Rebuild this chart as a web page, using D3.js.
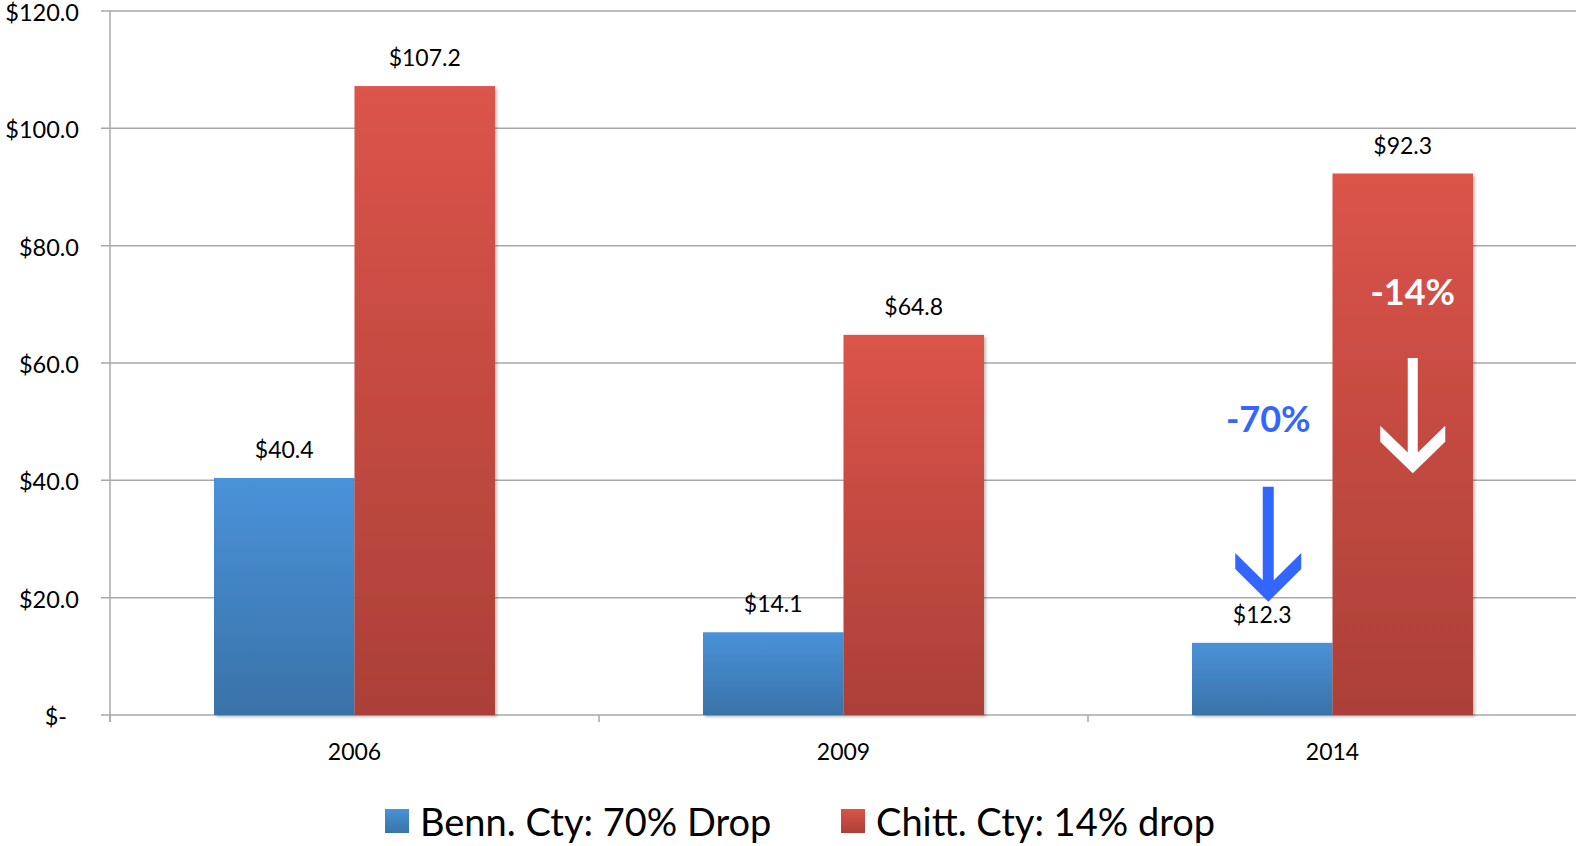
<!DOCTYPE html>
<html>
<head>
<meta charset="utf-8">
<script src="https://cdn.jsdelivr.net/npm/d3@7"></script>
<style>
  body { margin: 0; background: #fff; }
  svg { display: block; font-family: Lato, "Open Sans", sans-serif; }
</style>
</head>
<body>
<svg id="chart"></svg>
<script>
const years = ["2006", "2009", "2014"];
const seriesNames = ["Benn. Cty: 70% Drop", "Chitt. Cty: 14% drop"];
const benn = [40.4, 14.1, 12.3];
const chitt = [107.2, 64.8, 92.3];
const yTicks = [0, 20, 40, 60, 80, 100, 120];

const width = 1576, height = 846;
const svg = d3.select("#chart").attr("width", width).attr("height", height);

const x = d3.scaleBand().domain(years).range([110, 1577]);
const xs = d3.scaleBand().domain([0, 1])
  .range([(x.bandwidth() - 281) / 2, (x.bandwidth() + 281) / 2]);
const y = d3.scaleLinear().domain([0, 120]).range([715, 11]);

// gradients
const defs = svg.append("defs");
const grads = [["blueGrad", "#4a92d9", "#3972a8"], ["redGrad", "#db544a", "#ab4038"]];
grads.forEach(([id, c1, c2]) => {
  const g = defs.append("linearGradient").attr("id", id)
    .attr("x1", 0).attr("y1", 0).attr("x2", 0).attr("y2", 1);
  g.append("stop").attr("offset", "0%").attr("stop-color", c1);
  g.append("stop").attr("offset", "100%").attr("stop-color", c2);
});
const shadow = defs.append("filter").attr("id", "shadow")
  .attr("x", "-5%").attr("y", "-5%").attr("width", "115%").attr("height", "115%");
shadow.append("feDropShadow").attr("dx", 2).attr("dy", 2).attr("stdDeviation", 1.5)
  .attr("flood-color", "#000").attr("flood-opacity", 0.25);

// gridlines
svg.append("g").selectAll("line").data(yTicks).enter().append("line")
  .attr("x1", 101).attr("x2", width)
  .attr("y1", d => y(d)).attr("y2", d => y(d))
  .attr("stroke", "#a8a8a8").attr("stroke-width", 1.5);

// y axis line
svg.append("line").attr("x1", 110).attr("x2", 110).attr("y1", y(120)).attr("y2", y(0) + 7)
  .attr("stroke", "#a8a8a8").attr("stroke-width", 1.5);

// x ticks
svg.append("g").selectAll("line").data(years).enter().append("line")
  .attr("x1", d => x(d)).attr("x2", d => x(d))
  .attr("y1", y(0)).attr("y2", y(0) + 7)
  .attr("stroke", "#a8a8a8").attr("stroke-width", 1.5);

// y labels
svg.append("g").selectAll("text").data(yTicks).enter().append("text")
  .attr("x", d => d === 0 ? 67 : 79)
  .attr("y", d => y(d) + 10)
  .attr("text-anchor", "end")
  .attr("font-size", 23.5)
  .attr("fill", "#000")
  .text(d => d === 0 ? "$-" : "$" + d.toFixed(1));

// x labels
svg.append("g").selectAll("text").data(years).enter().append("text")
  .attr("x", d => x(d) + x.bandwidth() / 2)
  .attr("y", 760)
  .attr("text-anchor", "middle")
  .attr("font-size", 23)
  .text(d => d);

// bars
const series = [benn, chitt];
const fills = ["url(#blueGrad)", "url(#redGrad)"];
series.forEach((vals, si) => {
  const g = svg.append("g");
  g.selectAll("rect").data(vals).enter().append("rect")
    .attr("x", (d, i) => x(years[i]) + xs(si))
    .attr("width", xs.bandwidth())
    .attr("y", d => y(d))
    .attr("height", d => y(0) - y(d))
    .attr("fill", fills[si])
    .attr("filter", "url(#shadow)");
  g.selectAll("text").data(vals).enter().append("text")
    .attr("x", (d, i) => x(years[i]) + xs(si) + xs.bandwidth() / 2)
    .attr("y", d => y(d) - 20)
    .attr("text-anchor", "middle")
    .attr("font-size", 23)
    .text(d => "$" + d.toFixed(1));
});

// annotations on 2014
function arrow(cx, top, wingTop, tip, hw, sw, d) {
  const slope = (tip - wingTop - d) / hw;
  const inner = wingTop + (hw - sw) * slope;
  return [
    [cx - sw, top], [cx + sw, top], [cx + sw, inner], [cx + hw, wingTop],
    [cx + hw, wingTop + d], [cx, tip], [cx - hw, wingTop + d], [cx - hw, wingTop],
    [cx - sw, inner]
  ];
}
const bx = x("2014") + xs(0) + xs.bandwidth() / 2 + 6;
const rx = x("2014") + xs(1) + xs.bandwidth() / 2 + 10;

svg.append("text").attr("x", bx).attr("y", y(48.2))
  .attr("text-anchor", "middle").attr("font-size", 36).attr("font-weight", "bold")
  .attr("fill", "#3366ff").text("-70%");
svg.append("polygon")
  .attr("points", arrow(bx, y(38.9), y(27.6), y(19.3), 33, 5.5, 16).map(p => p.join(",")).join(" "))
  .attr("fill", "#3366ff");

svg.append("text").attr("x", rx).attr("y", y(69.9))
  .attr("text-anchor", "middle").attr("font-size", 36).attr("font-weight", "bold")
  .attr("fill", "#fff").text("-14%");
svg.append("polygon")
  .attr("points", arrow(rx, y(60.85), y(49.3), y(41.2), 32.5, 5, 16).map(p => p.join(",")).join(" "))
  .attr("fill", "#fff");

// legend
const legend = svg.append("g");
const legX = [385, 841];
seriesNames.forEach((name, i) => {
  legend.append("rect").attr("x", legX[i]).attr("y", 809).attr("width", 24).attr("height", 24)
    .attr("fill", fills[i]);
  legend.append("text").attr("x", legX[i] + 35).attr("y", 836)
    .attr("font-size", 38).text(name);
});
</script>
</body>
</html>
